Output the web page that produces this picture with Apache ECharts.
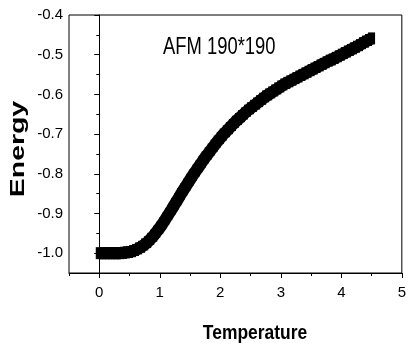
<!DOCTYPE html>
<html>
<head>
<meta charset="utf-8">
<script src="https://cdn.jsdelivr.net/npm/echarts@6/dist/echarts.min.js"></script>
<style>
  html, body { margin: 0; padding: 0; background: #fff; }
  #chart { width: 409px; height: 349px; }
</style>
</head>
<body>
<div id="chart"></div>
<script>
// temperature steps and energy
const temperature = [
  0.00, 0.05, 0.10, 0.15, 0.20, 0.25, 0.30, 0.35, 0.40, 0.45,
  0.50, 0.55, 0.60, 0.65, 0.70, 0.75, 0.80, 0.85, 0.90, 0.95,
  1.00, 1.05, 1.10, 1.15, 1.20, 1.25, 1.30, 1.35, 1.40, 1.45,
  1.50, 1.55, 1.60, 1.65, 1.70, 1.75, 1.80, 1.85, 1.90, 1.95,
  2.00, 2.05, 2.10, 2.15, 2.20, 2.25, 2.30, 2.35, 2.40, 2.45,
  2.50, 2.55, 2.60, 2.65, 2.70, 2.75, 2.80, 2.85, 2.90, 2.95,
  3.00, 3.05, 3.10, 3.15, 3.20, 3.25, 3.30, 3.35, 3.40, 3.45,
  3.50, 3.55, 3.60, 3.65, 3.70, 3.75, 3.80, 3.85, 3.90, 3.95,
  4.00, 4.05, 4.10, 4.15, 4.20, 4.25, 4.30, 4.35, 4.40, 4.45,
  4.50
];
const energy = [
  -1.000, -1.000, -1.000, -1.000, -1.000, -1.000, -1.000, -1.000, -0.999, -0.998,
  -0.997, -0.995, -0.992, -0.988, -0.984, -0.978, -0.972, -0.964, -0.956, -0.946,
  -0.936, -0.925, -0.913, -0.901, -0.889, -0.876, -0.864, -0.851, -0.839, -0.827,
  -0.815, -0.803, -0.792, -0.781, -0.770, -0.759, -0.749, -0.739, -0.729, -0.719,
  -0.710, -0.701, -0.693, -0.685, -0.677, -0.669, -0.662, -0.655, -0.648, -0.641,
  -0.635, -0.629, -0.623, -0.617, -0.611, -0.605, -0.600, -0.595, -0.590, -0.585,
  -0.580, -0.575, -0.571, -0.567, -0.563, -0.559, -0.555, -0.551, -0.547, -0.543,
  -0.539, -0.535, -0.531, -0.527, -0.523, -0.519, -0.515, -0.512, -0.508, -0.504,
  -0.500, -0.496, -0.492, -0.488, -0.484, -0.480, -0.476, -0.471, -0.467, -0.463,
  -0.459
];

const xTicks = [0, 1, 2, 3, 4, 5];
const xMinorTicks = [-0.5, 0.5, 1.5, 2.5, 3.5, 4.5];
const yTicks = [-1.0, -0.9, -0.8, -0.7, -0.6, -0.5, -0.4];
const yMinorTicks = [-1.05, -0.95, -0.85, -0.75, -0.65, -0.55, -0.45];

const font = 'Liberation Sans, Arial, sans-serif';
const chart = echarts.init(document.getElementById('chart'));

const points = temperature.map((t, i) => [t, energy[i]]);

chart.setOption({
  animation: false,
  backgroundColor: '#fff',
  grid: {
    left: 69, right: 5, top: 15, bottom: 76,
    show: true, borderColor: '#000', borderWidth: 1
  },
  xAxis: [
    {
      type: 'value', min: -0.5, max: 5, interval: 0.5,
      axisLine: { lineStyle: { color: '#000', width: 1 } },
      axisTick: { customValues: xTicks, length: 5, lineStyle: { color: '#000' } },
      axisLabel: {
        customValues: xTicks, margin: 12,
        color: '#000', fontSize: 15, fontFamily: font,
        formatter: v => String(v)
      },
      splitLine: { show: false }
    },
    {
      type: 'value', min: -0.5, max: 5, interval: 0.5, position: 'bottom',
      axisLine: { show: false },
      axisTick: { customValues: xMinorTicks, length: 3, lineStyle: { color: '#000' } },
      axisLabel: { show: false },
      splitLine: { show: false }
    }
  ],
  yAxis: [
    {
      type: 'value', min: -1.05, max: -0.4, interval: 0.05,
      axisLine: { show: true, lineStyle: { color: '#000', width: 1 } },
      axisTick: { customValues: yTicks, length: 5, lineStyle: { color: '#000' } },
      axisLabel: {
        customValues: yTicks, margin: 6,
        color: '#000', fontSize: 15, fontFamily: font,
        formatter: v => v.toFixed(1)
      },
      splitLine: { show: false }
    },
    {
      type: 'value', min: -1.05, max: -0.4, interval: 0.05, position: 'left',
      axisLine: { show: false },
      axisTick: { customValues: yMinorTicks, length: 3, lineStyle: { color: '#000' } },
      axisLabel: { show: false },
      splitLine: { show: false }
    }
  ],
  graphic: [
    {
      type: 'text', x: 163, y: 48,
      scaleX: 0.8,
      style: {
        text: 'AFM 190*190', fill: '#000',
        font: '23px ' + font,
        textAlign: 'left', textVerticalAlign: 'middle'
      }
    },
    {
      type: 'text', x: 255, y: 333,
      scaleX: 0.83,
      style: {
        text: 'Temperature', fill: '#000',
        font: 'bold 21px ' + font,
        textAlign: 'center', textVerticalAlign: 'middle'
      }
    },
    {
      type: 'text', x: 18, y: 149,
      rotation: Math.PI / 2,
      scaleX: 1.42,
      style: {
        text: 'Energy', fill: '#000',
        font: 'bold 20px ' + font,
        textAlign: 'center', textVerticalAlign: 'middle'
      }
    }
  ],
  series: [
    {
      type: 'line',
      xAxisIndex: 0, yAxisIndex: 0,
      symbol: 'rect',
      symbolSize: [7, 12],
      showSymbol: true, showAllSymbol: true,
      lineStyle: { color: '#000', width: 12 },
      itemStyle: { color: '#000', borderWidth: 0 },
      emphasis: { disabled: true },
      data: points
    }
  ]
});
</script>
</body>
</html>
